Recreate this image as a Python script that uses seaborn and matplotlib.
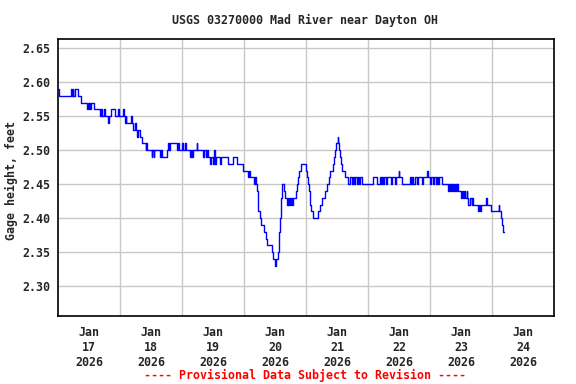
import matplotlib
matplotlib.use("Agg")
import matplotlib.pyplot as plt
import seaborn as sns
import numpy as np
import pandas as pd

title = "USGS 03270000 Mad River near Dayton OH"
ylabel = "Gage height, feet"
footer = "---- Provisional Data Subject to Revision ----"
day_labels = ["Jan\n17\n2026", "Jan\n18\n2026", "Jan\n19\n2026", "Jan\n20\n2026",
              "Jan\n21\n2026", "Jan\n22\n2026", "Jan\n23\n2026", "Jan\n24\n2026"]
y_ticks = [2.30, 2.35, 2.40, 2.45, 2.50, 2.55, 2.60, 2.65]

# hours since Jan 17 00:00
times = [
    0.0, 0.25, 4.88, 5.25, 5.52, 5.88, 6.61, 7.52, 8.79,
    11.24, 11.51, 11.79, 12.06, 12.33, 12.51, 13.97,
    16.15, 16.69, 17.06, 17.6, 17.96, 19.33, 19.6, 20.42, 21.96, 23.23, 23.6, 25.14, 25.41,
    25.78, 26.05, 26.32, 28.14, 28.41, 29.05, 29.77, 30.14, 30.59, 30.87, 31.59, 32.5,
    33.86, 34.14, 34.41,
    36.13, 36.41, 36.86, 37.13, 39.4, 39.68, 40.31, 41.95, 42.58, 42.86, 43.22, 45.76,
    46.49, 46.76, 48.03, 48.31, 49.04, 49.31, 50.94, 51.22, 51.76, 52.03, 53.58, 53.85,
    56.12, 56.39, 57.12, 57.39, 58.03, 58.66, 58.94, 59.94, 60.21, 60.48, 60.85, 61.12,
    62.57, 62.93, 65.75, 67.75, 69.29, 71.66, 73.57, 73.84, 74.2,
    75.75, 76.11, 76.56, 76.74, 77.2, 77.47, 78.11, 78.47, 79.65, 80.29, 80.65, 82.56,
    83.19, 83.74, 84.1, 84.92, 85.28, 85.56, 85.83, 86.1, 86.28, 86.46, 86.74, 87.46,
    87.83, 88.37, 88.73, 89.01, 89.37, 89.64, 90.1, 90.37, 91.01, 92.01, 92.55, 92.92,
    93.28, 93.82, 95.73, 96.37, 96.82, 97.19, 97.46, 97.82, 98.46, 100.64, 101.27,
    102.27, 103.27, 104.18, 104.64, 105.18, 106.18, 106.73, 107.09, 107.36, 108.09,
    108.36, 108.72, 109.0, 109.27, 109.72, 110.99,
    112.27, 112.9, 113.54, 113.9, 114.45, 114.81, 115.54, 115.9, 116.45, 116.81, 117.54,
    121.99, 123.26, 124.53, 124.99, 125.35, 125.8, 126.17, 126.89, 127.26, 128.89,
    129.26, 130.26, 130.62, 131.71, 132.07, 132.89, 136.16, 136.61, 136.98, 137.43,
    138.07, 138.88, 139.25, 140.7, 141.07, 142.79, 143.16, 143.88, 144.25, 144.97,
    145.34, 146.16, 146.52, 147.15, 147.52, 148.43,
    150.97, 151.24, 151.61, 151.88, 152.24, 152.52, 152.88, 153.15, 153.61, 153.88,
    154.24, 154.51, 154.88, 155.88, 156.15, 156.79, 157.06, 157.42, 158.06, 158.33,
    158.69, 159.33, 160.06, 160.33, 160.69, 162.6, 162.87, 163.24, 163.51, 165.6,
    165.96, 167.5, 170.41, 170.77, 171.41, 171.68, 171.95, 172.5,
]

gage_height = [
    2.59, 2.58, 2.59, 2.58, 2.59, 2.58, 2.59, 2.58, 2.57,
    2.56, 2.57, 2.56, 2.57, 2.56, 2.57, 2.56,
    2.55, 2.56, 2.55, 2.56, 2.55, 2.54, 2.55, 2.56, 2.55, 2.56, 2.55, 2.56, 2.55,
    2.54, 2.55, 2.54, 2.55, 2.54, 2.53, 2.54, 2.53, 2.52, 2.53, 2.52, 2.51,
    2.50, 2.51, 2.50,
    2.49, 2.50, 2.49, 2.50, 2.49, 2.50, 2.49, 2.50, 2.51, 2.50, 2.51, 2.50,
    2.51, 2.50, 2.51, 2.50, 2.51, 2.50, 2.49, 2.50, 2.49, 2.50, 2.51, 2.50,
    2.49, 2.50, 2.49, 2.50, 2.49, 2.48, 2.49, 2.48, 2.50, 2.49, 2.48, 2.49,
    2.48, 2.49, 2.48, 2.49, 2.48, 2.47, 2.46, 2.47, 2.46,
    2.45, 2.46, 2.45, 2.44, 2.43, 2.41, 2.40, 2.39, 2.38, 2.37, 2.36, 2.35,
    2.34, 2.33, 2.34, 2.35, 2.36, 2.38, 2.40, 2.41, 2.43, 2.44, 2.45, 2.44,
    2.43, 2.42, 2.43, 2.42, 2.43, 2.42, 2.43, 2.42, 2.43, 2.44, 2.45, 2.46,
    2.47, 2.48, 2.47, 2.46, 2.45, 2.44, 2.42, 2.41, 2.40, 2.41, 2.42,
    2.43, 2.44, 2.45, 2.46, 2.47, 2.48, 2.49, 2.50, 2.51, 2.52,
    2.51, 2.50, 2.49, 2.48, 2.47, 2.46,
    2.45, 2.46, 2.45, 2.46, 2.45, 2.46, 2.45, 2.46, 2.45, 2.46, 2.45,
    2.46, 2.45, 2.46, 2.45, 2.46, 2.45, 2.46, 2.45, 2.46, 2.45,
    2.46, 2.45, 2.46, 2.47, 2.46, 2.45, 2.46, 2.45, 2.46, 2.45,
    2.46, 2.45, 2.46, 2.45, 2.46, 2.47, 2.46, 2.45, 2.46, 2.45,
    2.46, 2.45, 2.46, 2.45, 2.46, 2.45,
    2.44, 2.45, 2.44, 2.45, 2.44, 2.45, 2.44, 2.45, 2.44, 2.45,
    2.44, 2.45, 2.44, 2.43, 2.44, 2.43, 2.44, 2.43, 2.44, 2.43,
    2.42, 2.43, 2.42, 2.43, 2.42, 2.41, 2.42, 2.41, 2.42, 2.43,
    2.42, 2.41, 2.42, 2.41, 2.40, 2.39, 2.38, 2.38,
]

sns.set_style("white")
plt.rcParams['font.family'] = ['DejaVu Sans Mono']
plt.rcParams['font.weight'] = 'bold'
FS = 8.4

fig = plt.figure(figsize=(5.76, 3.84), dpi=100)
fig.patch.set_facecolor("white")
ax = fig.add_axes([58.3 / 576, 1 - 316 / 384, (554.3 - 58.3) / 576, (316 - 39.3) / 384])

df = pd.DataFrame({"hours": times, "gage": gage_height})
sns.lineplot(data=df, x="hours", y="gage", ax=ax, color="#0000ff", lw=1.0,
             drawstyle="steps-post", estimator=None, sort=False, zorder=3)

ax.set_xlim(0, 192)
ax.set_ylim(2.2563, 2.6632)
ax.set_xticks(np.arange(len(day_labels)) * 24 + 12)
ax.set_xticklabels(day_labels, fontsize=FS, fontweight="bold")
ax.set_xticks(np.arange(1, 8) * 24, minor=True)
ax.set_yticks(y_ticks)
ax.set_yticklabels([f"{v:.2f}" for v in y_ticks], fontsize=FS, fontweight="bold")
ax.tick_params(axis="both", which="both", length=0)
ax.tick_params(axis="x", pad=7)
ax.tick_params(axis="y", pad=5.5)
ax.grid(False)
ax.grid(which="minor", axis="x", color="#c8c8c8", lw=1.0, zorder=0)
ax.grid(which="major", axis="y", color="#c8c8c8", lw=1.0, zorder=0)
ax.set_axisbelow(True)
for s in ax.spines.values():
    s.set_color("black")
    s.set_linewidth(1.2)

ax.set_xlabel("")
ax.set_ylabel("")
fig.text(11.5 / 576, 1 - 180 / 384, ylabel, rotation=90, ha="center", va="center",
         fontsize=FS, fontweight="bold")

fig.text(305.5 / 576, 1 - 20 / 384, title, ha="center", va="center",
         fontsize=FS, fontweight="bold")
fig.text(305.5 / 576, 1 - 375 / 384, footer, ha="center", va="center",
         fontsize=FS, fontweight="bold", color="red")

fig.savefig("out.png", dpi=100, facecolor="white")
